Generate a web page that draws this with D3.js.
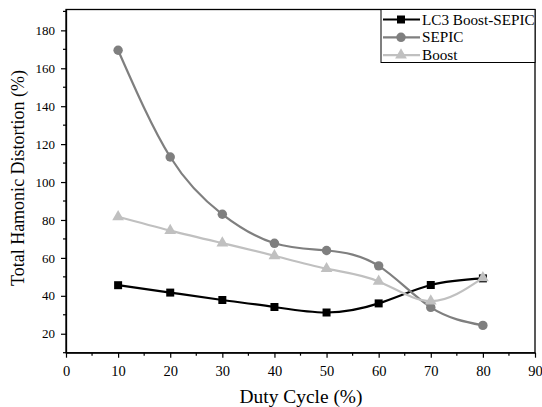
<!DOCTYPE html>
<html><head><meta charset="utf-8">
<script src="https://cdn.jsdelivr.net/npm/d3@7"></script>
<style>body{margin:0;background:#fff;} svg{display:block;} svg text{font-family:'Liberation Serif','Times New Roman',Tinos,'DejaVu Serif',serif !important;}</style>
</head><body>
<svg id="c" width="542" height="407"></svg>
<script>
const duty = [10, 20, 30, 40, 50, 60, 70, 80];
const lc3 = [45.6, 41.7, 37.8, 34.1, 31.2, 36.0, 45.7, 49.2];
const sepic = [169.5, 113.2, 83.0, 67.7, 63.9, 55.8, 33.9, 24.4];
const boost = [81.7, 74.4, 67.8, 61.1, 54.3, 47.6, 37.2, 49.5];
const seriesNames = ["LC3 Boost-SEPIC", "SEPIC", "Boost"];
const xTicks = [0,10,20,30,40,50,60,70,80,90];
const yTicks = [20,40,60,80,100,120,140,160,180];
const FF = "'Liberation Serif', 'Times New Roman', serif";

const svg = d3.select("#c");
const L = 66, R = 535, T = 9.5, B = 352.7;
const x = d3.scaleLinear().domain([0, 90]).range([L, R]);
const y = d3.scaleLinear().domain([10, 191]).range([B, T]);

svg.append("rect").attr("x", L).attr("y", T).attr("width", R - L).attr("height", B - T)
  .attr("fill", "none").attr("stroke", "#000").attr("stroke-width", 1.3);

const xAxis = d3.axisBottom(x).tickValues(xTicks).tickSize(5).tickSizeOuter(0).tickPadding(8.5);
const gx = svg.append("g").attr("transform", `translate(0,${B})`).call(xAxis).attr("font-family", null);
gx.selectAll("text").attr("font-size", 14.5).style("font-family", FF).attr("fill", "#000");
gx.select(".domain").attr("stroke-width", 1.3);
gx.selectAll(".tick line").attr("stroke-width", 1.2);
const xMinor = d3.range(5, 90, 10);
svg.append("g").selectAll("line").data(xMinor).join("line")
  .attr("x1", d => x(d)).attr("x2", d => x(d)).attr("y1", B).attr("y2", B + 3)
  .attr("stroke", "#000").attr("stroke-width", 1.2);

const yAxis = d3.axisLeft(y).tickValues(yTicks).tickSize(5).tickSizeOuter(0).tickPadding(6);
const gy = svg.append("g").attr("transform", `translate(${L},0)`).call(yAxis).attr("font-family", null);
gy.selectAll("text").attr("font-size", 13).style("font-family", FF).attr("fill", "#000");
gy.select(".domain").attr("stroke-width", 1.3);
gy.selectAll(".tick line").attr("stroke-width", 1.2);
const yMinor = d3.range(10, 191, 20);
svg.append("g").selectAll("line").data(yMinor).join("line")
  .attr("x1", L).attr("x2", L - 3).attr("y1", d => y(d)).attr("y2", d => y(d))
  .attr("stroke", "#000").attr("stroke-width", 1.2);

svg.append("text").attr("x", 239.5).attr("y", 402.5)
  .attr("font-size", 18).attr("textLength", 123).attr("lengthAdjust", "spacingAndGlyphs")
  .style("font-family", FF).text("Duty Cycle (%)");
svg.append("text").attr("transform", `translate(24,178) rotate(-90)`).attr("text-anchor", "middle")
  .attr("font-size", 18).style("font-family", FF).text("Total Hamonic Distortion (%)");

const series = [
  {name: seriesNames[0], vals: lc3, color: "#000000", sym: d3.symbolSquare, size: 64},
  {name: seriesNames[1], vals: sepic, color: "#7f7f7f", sym: d3.symbolCircle, size: 70},
  {name: seriesNames[2], vals: boost, color: "#c0c0c0", sym: d3.symbolTriangle, size: 60}
];
const line = d3.line().x((d, i) => x(duty[i])).y(d => y(d)).curve(d3.curveNatural);
const plot = svg.append("g");
series.forEach(s => {
  plot.append("path").attr("d", line(s.vals)).attr("fill", "none")
    .attr("stroke", s.color).attr("stroke-width", 2.2);
  plot.append("g").selectAll("path").data(s.vals).join("path")
    .attr("transform", (d, i) => `translate(${x(duty[i])},${y(d)})`)
    .attr("d", d3.symbol().type(s.sym).size(s.size)).attr("fill", s.color);
});

const lg = svg.append("g");
lg.append("rect").attr("x", 381).attr("y", T).attr("width", R - 381).attr("height", 53)
  .attr("fill", "#fff").attr("stroke", "#000").attr("stroke-width", 1);
series.forEach((s, i) => {
  const yy = 19.5 + i * 17.8;
  lg.append("line").attr("x1", 383).attr("x2", 420).attr("y1", yy).attr("y2", yy)
    .attr("stroke", s.color).attr("stroke-width", 2.2);
  lg.append("path").attr("transform", `translate(401,${yy})`)
    .attr("d", d3.symbol().type(s.sym).size(s.size)).attr("fill", s.color);
  lg.append("text").attr("x", 422).attr("y", yy + 5).attr("font-size", 15.2).style("font-family", FF).text(s.name);
});
</script>
</body></html>
